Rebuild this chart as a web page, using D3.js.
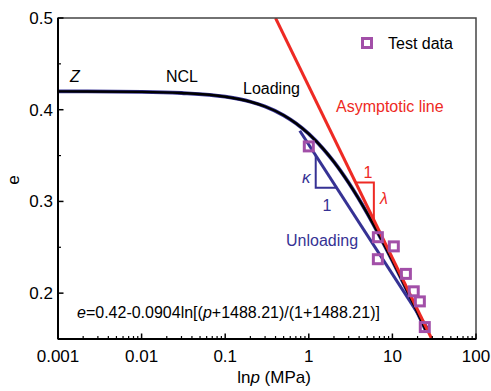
<!DOCTYPE html>
<html><head><meta charset="utf-8">
<script src="https://cdn.jsdelivr.net/npm/d3@7"></script>
<style>body{margin:0;background:#fff}text{font-family:Arial,"Liberation Sans",sans-serif}</style>
</head><body><svg id="c" width="491" height="391"></svg>
<script>
// Model curve e=0.42-0.0904ln[(p+1488.21)/(1+1488.21)] read at sample points
const curveP = [0.001,0.01,0.03,0.1,0.2,0.3,0.5,0.7,1,1.5,2,3,5,7,10,15,20,25];
const curveE = [0.420,0.4195,0.4182,0.4142,0.4087,0.4035,0.3939,0.3852,0.3736,0.3570,0.3431,0.3203,0.2870,0.2627,0.2353,0.2026,0.1787,0.1598];
// Test data
const testP = [1.0, 6.7, 10.4, 6.7, 14.5, 18.0, 21.3, 24.4];
const testE = [0.360, 0.261, 0.251, 0.237, 0.221, 0.202, 0.191, 0.163];
// Asymptotic line
const asymP = [0.40, 29.6];
const asymE = [0.50, 0.15];
// Unloading line
const unloadP = [0.78, 26.5];
const unloadE = [0.377, 0.161];
// Slope triangles
const redTriP = [3.62, 6.0, 6.0];
const redTriE = [0.3207, 0.3207, 0.280];
const blueTriP = [1.21, 1.21, 2.14];
const blueTriE = [0.350, 0.315, 0.315];
// Ticks
const xTicks = [0.001, 0.01, 0.1, 1, 10, 100];
const xTickLabels = ["0.001", "0.01", "0.1", "1", "10", "100"];
const yTicks = [0.2, 0.3, 0.4, 0.5];
const yTickLabels = ["0.2", "0.3", "0.4", "0.5"];
const yMinor = [0.15, 0.25, 0.35, 0.45];

const L = 58, R = 476, T = 18, B = 339;
const x = d3.scaleLog().domain([0.001, 100]).range([L, R]);
const y = d3.scaleLinear().domain([0.15, 0.5]).range([B, T]);
const svg = d3.select("#c");
const RED = "#ee2a24", BLUE = "#363294", PURPLE = "#a24fa8";

svg.append("defs").append("clipPath").attr("id", "clip")
  .append("rect").attr("x", L).attr("y", T).attr("width", R - L).attr("height", B - T);
const g = svg.append("g").attr("clip-path", "url(#clip)");
const zip = (P, E) => P.map((p, i) => [p, E[i]]);
const line = d3.line().x(d => x(d[0])).y(d => y(d[1]));

// Frame
svg.append("rect").attr("x", L).attr("y", T).attr("width", R - L).attr("height", B - T)
  .attr("fill", "none").attr("stroke", "#444").attr("stroke-width", 1.5);

// Lines
g.append("path").datum(zip(unloadP, unloadE)).attr("d", line)
  .attr("fill", "none").attr("stroke", BLUE).attr("stroke-width", 3);
const curveLine = d3.line().x(d => x(d[0])).y(d => y(d[1])).curve(d3.curveMonotoneX);
g.append("path").datum(zip(curveP, curveE)).attr("d", curveLine)
  .attr("fill", "none").attr("stroke", BLUE).attr("stroke-width", 3.8);
g.append("path").datum(zip(curveP, curveE)).attr("d", curveLine)
  .attr("fill", "none").attr("stroke", "#000").attr("stroke-width", 2.4);
g.append("path").datum(zip(asymP, asymE)).attr("d", line)
  .attr("fill", "none").attr("stroke", RED).attr("stroke-width", 3);

// Triangles
g.append("path").datum(zip(redTriP, redTriE)).attr("d", line)
  .attr("fill", "none").attr("stroke", RED).attr("stroke-width", 2);
g.append("path").datum(zip(blueTriP, blueTriE)).attr("d", line)
  .attr("fill", "none").attr("stroke", BLUE).attr("stroke-width", 2);

// Test data
g.selectAll("rect.pt").data(zip(testP, testE)).enter().append("rect").attr("class", "pt")
  .attr("x", d => x(d[0]) - 4.5).attr("y", d => y(d[1]) - 4.5).attr("width", 9).attr("height", 9)
  .attr("fill", "none").attr("stroke", PURPLE).attr("stroke-width", 3);

// Axes (ticks inward)
const xAxis = svg.append("g").attr("transform", `translate(0,${B})`);
const minorX = [];
for (let d = -3; d < 2; d++) for (let k = 2; k <= 9; k++) minorX.push(k * Math.pow(10, d));
xAxis.selectAll("line.mi").data(minorX).enter().append("line")
  .attr("x1", d => x(d)).attr("x2", d => x(d)).attr("y1", 0).attr("y2", -3)
  .attr("stroke", "#000").attr("stroke-width", 1.2);
xAxis.selectAll("line.ma").data(xTicks).enter().append("line")
  .attr("x1", d => x(d)).attr("x2", d => x(d)).attr("y1", 0).attr("y2", -5.5)
  .attr("stroke", "#000").attr("stroke-width", 1.5);
xAxis.selectAll("text").data(xTicks).enter().append("text")
  .attr("x", d => x(d)).attr("y", 23).attr("text-anchor", "middle")
  .attr("font-size", 17).text((d, i) => xTickLabels[i]);
svg.append("line").attr("x1", L).attr("x2", R).attr("y1", B).attr("y2", B).attr("stroke", "#000").attr("stroke-width", 2);

const yAxis = svg.append("g").attr("transform", `translate(${L},0)`);
yAxis.selectAll("line.mi").data(yMinor).enter().append("line")
  .attr("x1", 0).attr("x2", 3).attr("y1", d => y(d)).attr("y2", d => y(d))
  .attr("stroke", "#000").attr("stroke-width", 1.2);
yAxis.selectAll("line.ma").data(yTicks).enter().append("line")
  .attr("x1", 0).attr("x2", 5.5).attr("y1", d => y(d)).attr("y2", d => y(d))
  .attr("stroke", "#000").attr("stroke-width", 1.5);
yAxis.selectAll("text").data(yTicks).enter().append("text")
  .attr("x", -5).attr("y", d => y(d) + 6).attr("text-anchor", "end")
  .attr("font-size", 17).text((d, i) => yTickLabels[i]);
svg.append("line").attr("x1", L).attr("x2", L).attr("y1", T).attr("y2", B).attr("stroke", "#000").attr("stroke-width", 2);

// Axis titles
const xt = svg.append("text").attr("x", 274).attr("y", 383).attr("text-anchor", "middle").attr("font-size", 17);
xt.append("tspan").text("ln");
xt.append("tspan").attr("font-style", "italic").text("p");
xt.append("tspan").text(" (MPa)");
svg.append("text").attr("transform", "translate(19,180) rotate(-90)").attr("text-anchor", "middle")
  .attr("font-size", 17).text("e");

// Legend
svg.append("rect").attr("x", 362.5).attr("y", 38.5).attr("width", 9).attr("height", 9)
  .attr("fill", "none").attr("stroke", PURPLE).attr("stroke-width", 3);
svg.append("text").attr("x", 388).attr("y", 49).attr("font-size", 16).text("Test data");

// Annotations
svg.append("text").attr("x", 70).attr("y", 82).attr("font-size", 16).attr("font-style", "italic").text("Z");
svg.append("text").attr("x", 166).attr("y", 82).attr("font-size", 16).text("NCL");
svg.append("text").attr("x", 243).attr("y", 94).attr("font-size", 16).text("Loading");
svg.append("text").attr("x", 336).attr("y", 112).attr("font-size", 16).attr("fill", RED).text("Asymptotic line");
svg.append("text").attr("x", 286).attr("y", 246).attr("font-size", 16).attr("fill", BLUE).text("Unloading");
svg.append("text").attr("x", 368).attr("y", 178).attr("font-size", 16).attr("fill", RED).attr("text-anchor", "middle").text("1");
svg.append("text").attr("x", 380).attr("y", 204).attr("font-size", 16).attr("fill", RED).attr("font-style", "italic").attr("font-family", "DejaVu Serif").text("λ");
svg.append("text").attr("x", 302).attr("y", 183).attr("font-size", 17).attr("fill", BLUE).attr("font-style", "italic").attr("font-family", "DejaVu Serif").text("κ");
svg.append("text").attr("x", 327).attr("y", 211).attr("font-size", 16).attr("fill", BLUE).attr("text-anchor", "middle").text("1");

// Formula
const f = svg.append("text").attr("x", 77).attr("y", 318).attr("font-size", 16);
f.append("tspan").attr("font-style", "italic").text("e");
f.append("tspan").text("=0.42-0.0904ln[(");
f.append("tspan").attr("font-style", "italic").text("p");
f.append("tspan").text("+1488.21)/(1+1488.21)]");
</script></body></html>
